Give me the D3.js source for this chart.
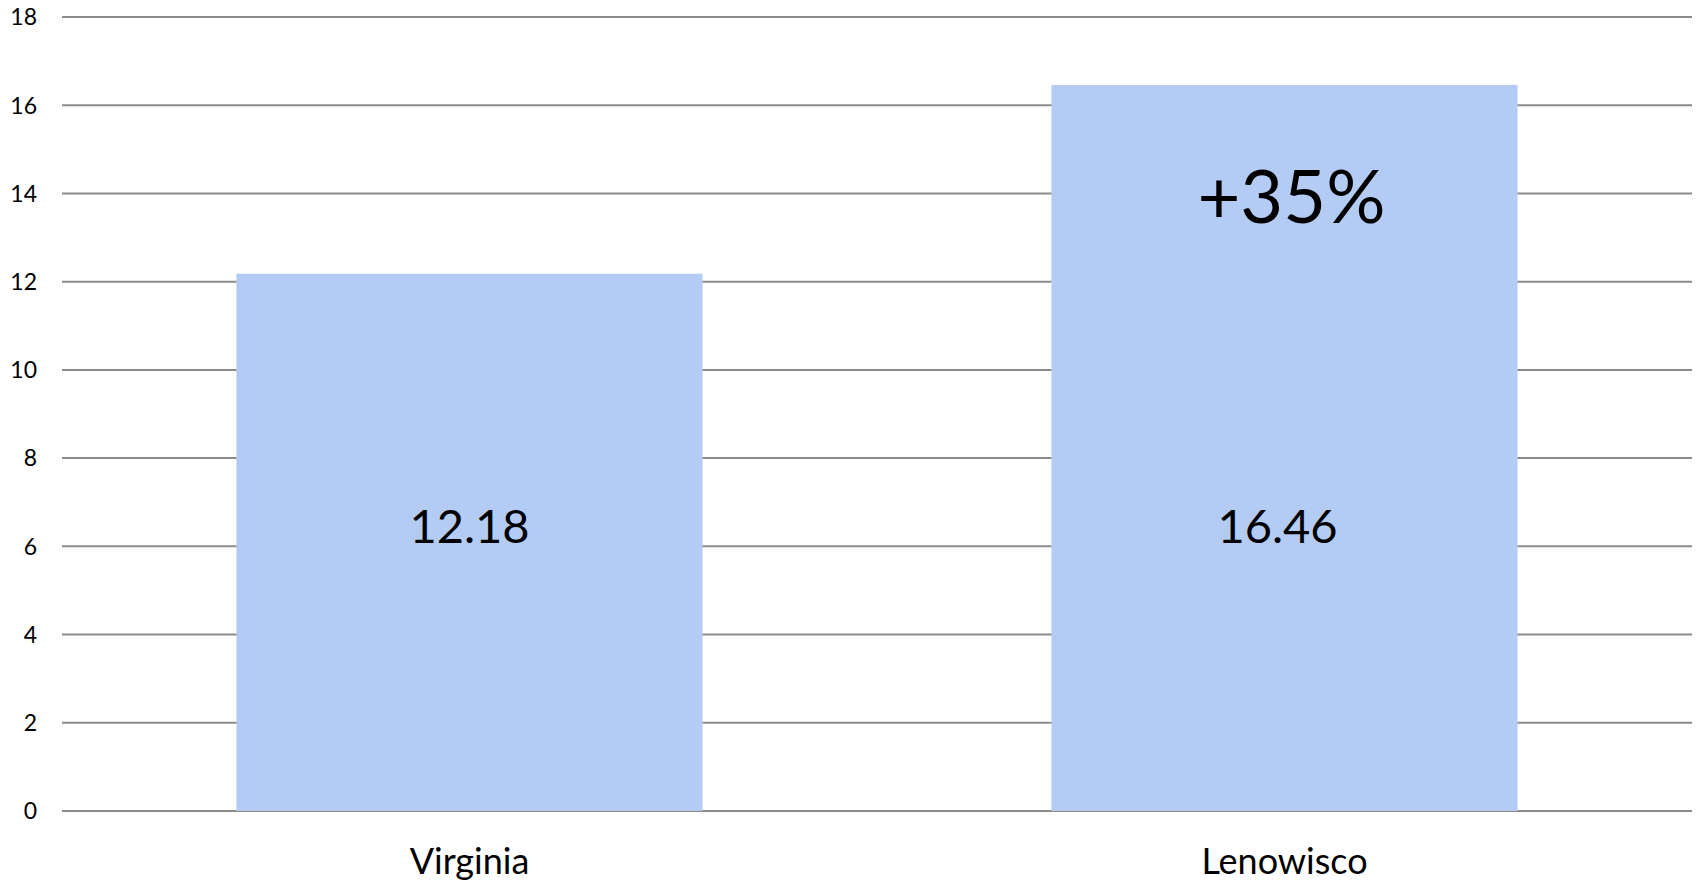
<!DOCTYPE html>
<html>
<head>
<meta charset="utf-8">
<script src="https://cdn.jsdelivr.net/npm/d3@7"></script>
<style>
  body { margin: 0; background: #fff; }
  text { font-family: Lato, "Open Sans", sans-serif; fill: #000; }
</style>
</head>
<body>
<svg id="chart" width="1696" height="882"></svg>
<script>
// data
const regions = ["Virginia", "Lenowisco"]
const rates = [12.18, 16.46]
const yTicks = [0, 2, 4, 6, 8, 10, 12, 14, 16, 18]
const diffLabel = "+35%"

let svg = d3.select("#chart")

let plotLeft = 62, plotRight = 1692, plotTop = 17, plotBottom = 811

let x = d3.scaleBand()
    .domain(regions)
    .range([plotLeft, plotRight])
    .paddingInner(0.428)
    .paddingOuter(0.214)

let y = d3.scaleLinear()
    .domain([0, 18])
    .range([plotBottom, plotTop])

// gridlines
svg.append("g")
    .selectAll("line")
    .data(yTicks)
    .join("line")
    .attr("x1", plotLeft)
    .attr("x2", plotRight)
    .attr("y1", d => y(d))
    .attr("y2", d => y(d))
    .style("stroke", "#8c8c8c")
    .style("stroke-width", 2)

// y tick labels
svg.append("g")
    .selectAll("text")
    .data(yTicks)
    .join("text")
    .attr("x", 37)
    .attr("y", d => y(d))
    .attr("dy", "0.36em")
    .attr("text-anchor", "end")
    .style("font-size", "23px")
    .text(d => d)

// bars
svg.append("g")
    .selectAll("rect")
    .data(regions)
    .join("rect")
    .attr("x", d => x(d))
    .attr("width", x.bandwidth())
    .attr("y", (d, i) => y(rates[i]))
    .attr("height", (d, i) => y(0) - y(rates[i]))
    .style("fill", "#b4ccf4")

// value labels (both sit at the same height in the original)
svg.append("g")
    .selectAll("text")
    .data(regions)
    .join("text")
    .attr("x", (d, i) => x(d) + x.bandwidth() / 2 - (i == 1 ? 7 : 0))
    .attr("y", y(6.08))
    .attr("text-anchor", "middle")
    .style("font-size", "47px")
    .text((d, i) => rates[i].toFixed(2))

// percentage increase
svg.append("text")
    .attr("x", x(regions[1]) + x.bandwidth() / 2 + 7)
    .attr("y", 223)
    .attr("text-anchor", "middle")
    .style("font-size", "74px")
    .text(diffLabel)

// category labels
svg.append("g")
    .selectAll("text")
    .data(regions)
    .join("text")
    .attr("x", d => x(d) + x.bandwidth() / 2)
    .attr("y", 874)
    .attr("text-anchor", "middle")
    .style("font-size", "36px")
    .text(d => d)
</script>
</body>
</html>
